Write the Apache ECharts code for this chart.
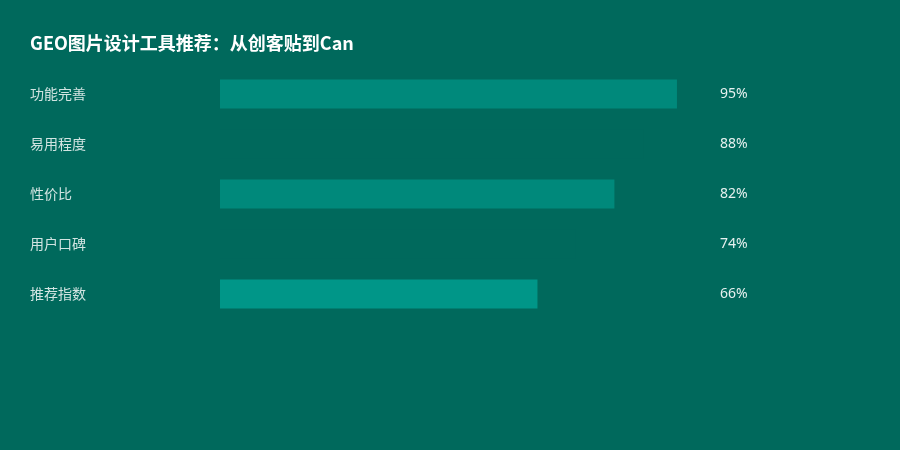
<!DOCTYPE html>
<html>
<head>
<meta charset="utf-8">
<script src="https://cdn.jsdelivr.net/npm/echarts@6/dist/echarts.min.js"></script>
<style>
html,body{margin:0;padding:0;background:#00695C;}
#main{width:900px;height:450px;}
</style>
</head>
<body>
<div id="main"></div>
<script>
var categories = ['功能完善', '易用程度', '性价比', '用户口碑', '推荐指数'];
var values = [95, 88, 82, 74, 66];
var barColors = ['#00897B', '#00695C', '#00897B', '#00695C', '#009688'];

var chart = echarts.init(document.getElementById('main'));
chart.setOption({
	backgroundColor: '#00695C',
	title: {
		text: 'GEO图片设计工具推荐：从创客贴到Can',
		left: 30,
		top: 34,
		padding: 0,
		textStyle: {
			color: '#ffffff',
			fontSize: 18,
			fontWeight: 'bold',
			fontFamily: 'Noto Sans CJK SC'
		}
	},
	grid: {
		left: 220,
		right: 199,
		top: 69,
		height: 250
	},
	xAxis: {
		type: 'value',
		min: 0,
		max: 100,
		show: false
	},
	yAxis: [{
		type: 'category',
		data: categories,
		inverse: true,
		axisLine: {show: false},
		axisTick: {show: false},
		axisLabel: {
			align: 'left',
			margin: 190,
			color: 'rgba(255,255,255,0.82)',
			fontSize: 14,
			fontFamily: 'Noto Sans CJK SC'
		}
	}, {
		type: 'category',
		position: 'right',
		data: categories,
		inverse: true,
		axisLine: {show: false},
		axisTick: {show: false},
		axisLabel: {
			align: 'left',
			margin: 19,
			color: 'rgba(255,255,255,0.9)',
			fontSize: 14,
			fontFamily: 'Noto Sans',
			formatter: function (v, i) {
				return values[i] + '%';
			}
		}
	}],
	series: [{
		type: 'bar',
		barWidth: 29,
		data: values.map(function (v, i) {
			return {value: v, itemStyle: {color: barColors[i]}};
		}),
		silent: true
	}]
});
</script>
</body>
</html>
